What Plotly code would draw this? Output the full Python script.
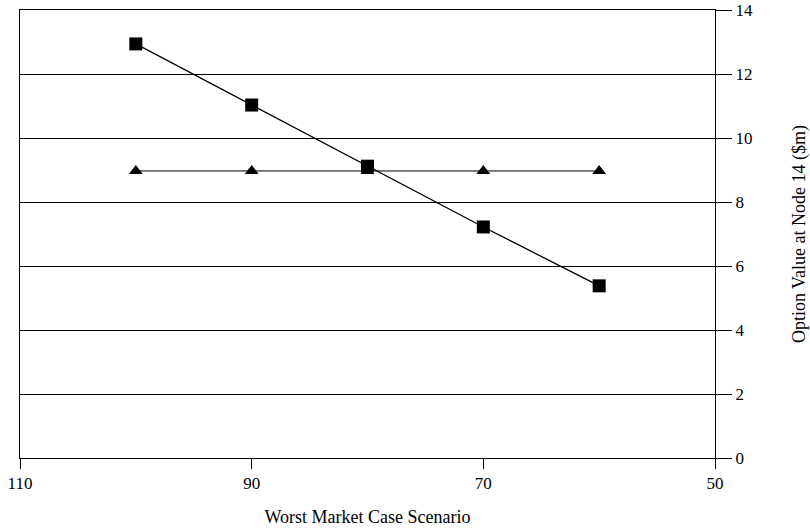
import plotly.graph_objects as go

x_scenario = [100, 90, 80, 70, 60]
option_values = [12.94, 11.03, 9.12, 7.22, 5.38]
flat_values = [8.97, 8.97, 8.97, 8.97, 8.97]
x_ticks = [110, 90, 70, 50]
y_ticks = [0, 2, 4, 6, 8, 10, 12, 14]

fam = "Liberation Serif, Times New Roman, serif"
tick_font = dict(family=fam, size=17, color="black")
title_font = dict(family=fam, size=18, color="black")

fig = go.Figure()
fig.add_trace(go.Scatter(x=x_scenario, y=flat_values, mode="lines+markers",
                         line=dict(color="black", width=1),
                         marker=dict(symbol="triangle-up", size=12, color="black"),
                         showlegend=False))
fig.add_trace(go.Scatter(x=x_scenario, y=option_values, mode="lines+markers",
                         line=dict(color="black", width=1.3),
                         marker=dict(symbol="square", size=13, color="black"),
                         showlegend=False))

fig.update_layout(
    width=810, height=531,
    margin=dict(l=20, r=95, t=10, b=73),
    paper_bgcolor="white", plot_bgcolor="white",
    font=tick_font,
    xaxis=dict(range=[110, 50], tickvals=x_ticks, ticks="outside", ticklen=10,
               tickcolor="black", showline=True, mirror=True, linecolor="black", linewidth=1,
               showgrid=False, zeroline=False, automargin=False, tickfont=tick_font,
               title=dict(text="Worst Market Case Scenario", font=title_font, standoff=17)),
    yaxis=dict(range=[0, 14], tickvals=y_ticks, side="right", ticks="outside",
               ticklen=16, tickcolor="black", showline=True, mirror=True,
               linecolor="black", linewidth=1, showgrid=True, gridcolor="black",
               gridwidth=1, zeroline=False, automargin=False, tickfont=tick_font,
               title=dict(text="Option Value at Node 14 ($m)", font=title_font, standoff=40)),
)

fig.write_html("out.html", config={"displayModeBar": False},
               post_script="document.body.style.margin='0';")
